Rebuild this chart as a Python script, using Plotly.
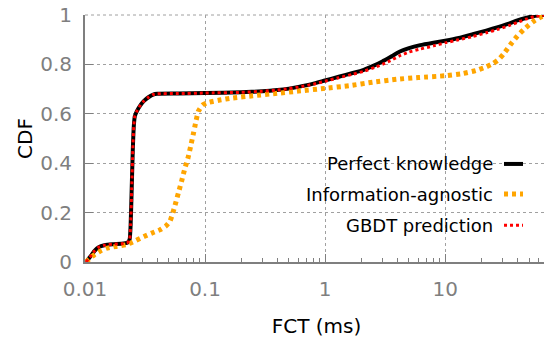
import plotly.graph_objects as go

# ---- data ----
perfect_x = [0.0102, 0.011, 0.012, 0.013, 0.0145, 0.017, 0.02, 0.0225, 0.0235, 0.024, 0.0245, 0.025,
             0.0255, 0.026, 0.027, 0.029, 0.031, 0.034, 0.037, 0.04, 0.06, 0.1, 0.2, 0.3, 0.4, 0.5,
             0.6, 0.8, 1.0, 1.3, 1.7, 2.1, 2.6, 3.0, 3.5, 4.2, 5, 6.2, 8, 10, 13, 17, 22, 28, 34,
             40, 47, 55, 63, 70]
perfect_y = [0.0, 0.02, 0.045, 0.06, 0.068, 0.072, 0.074, 0.078, 0.09, 0.15, 0.3, 0.45,
             0.55, 0.59, 0.61, 0.635, 0.652, 0.668, 0.678, 0.681, 0.682, 0.684, 0.687, 0.691, 0.696, 0.702,
             0.709, 0.722, 0.735, 0.75, 0.765, 0.778, 0.797, 0.812, 0.83, 0.852, 0.866, 0.878, 0.888, 0.896,
             0.907, 0.922, 0.937, 0.952, 0.965, 0.978, 0.988, 0.996, 0.999, 1.0]

gbdt_x = perfect_x
gbdt_y = [0.0, 0.02, 0.045, 0.06, 0.068, 0.072, 0.074, 0.078, 0.09, 0.15, 0.3, 0.45,
          0.55, 0.59, 0.61, 0.635, 0.652, 0.668, 0.678, 0.681, 0.682, 0.684, 0.687, 0.691, 0.696, 0.702,
          0.708, 0.72, 0.732, 0.746, 0.76, 0.772, 0.788, 0.8, 0.815, 0.835, 0.85, 0.862, 0.875, 0.887,
          0.9, 0.913, 0.928, 0.943, 0.957, 0.97, 0.983, 0.993, 0.998, 1.0]

agnostic_x = [0.0102, 0.011, 0.012, 0.0135, 0.015, 0.018, 0.022, 0.026, 0.031, 0.036, 0.042, 0.047,
              0.051, 0.054, 0.057, 0.06, 0.064, 0.068, 0.072, 0.076, 0.08, 0.084, 0.088, 0.095, 0.105,
              0.13, 0.17, 0.25, 0.4, 0.6, 1.0, 1.6, 2.5, 4, 6, 10, 14, 18, 22, 25, 28, 31, 35, 40, 45,
              50, 56, 63, 70]
agnostic_y = [0.0, 0.015, 0.03, 0.045, 0.055, 0.063, 0.07, 0.085, 0.103, 0.117, 0.13, 0.145,
              0.165, 0.2, 0.24, 0.28, 0.33, 0.38, 0.42, 0.47, 0.52, 0.57, 0.61, 0.635, 0.645,
              0.655, 0.664, 0.673, 0.683, 0.692, 0.703, 0.714, 0.728, 0.74, 0.747, 0.754, 0.763, 0.775, 0.79,
              0.803, 0.82, 0.845, 0.88, 0.915, 0.94, 0.96, 0.978, 0.992, 1.0]

series_names = ["Perfect knowledge", "Information-agnostic", "GBDT prediction"]
x_tickvals = [0.01, 0.1, 1, 10]
x_ticktext = ["0.01", "0.1", "1", "10"]
y_tickvals = [0, 0.2, 0.4, 0.6, 0.8, 1]
y_ticktext = ["0", "0.2", "0.4", "0.6", "0.8", "1"]

FONT = "DejaVu Sans"
GRAY = "#7f7f7f"
GRID = "#a0a0a0"

black_style = dict(color="black", width=4)
orange_style = dict(color="#FFA500", width=5, dash="4px,4px")
red_style = dict(color="#FF0000", width=3, dash="3px,3px")

fig = go.Figure()
fig.add_trace(go.Scatter(x=perfect_x, y=perfect_y, mode="lines", name=series_names[0],
                         line=dict(**black_style, shape="spline", smoothing=0.5)))
fig.add_trace(go.Scatter(x=agnostic_x, y=agnostic_y, mode="lines", name=series_names[1],
                         line=dict(**orange_style, shape="spline", smoothing=0.5)))
fig.add_trace(go.Scatter(x=gbdt_x, y=gbdt_y, mode="lines", name=series_names[2],
                         line=dict(**red_style, shape="spline", smoothing=0.5)))

# top grid line (plotly omits the grid line at the range edge)
shapes = [dict(type="line", xref="paper", yref="paper", x0=0, x1=1, y0=1, y1=1,
               line=dict(color=GRID, width=1, dash="dot"), layer="between"),
          # white box behind the legend, hiding the grid
          dict(type="rect", xref="paper", yref="paper", x0=0.389, x1=0.961, y0=0.069, y1=0.502,
               fillcolor="white", line=dict(width=0), layer="between")]
annotations = []
rows_y = [0.397, 0.275, 0.149]
for name, ry, st in zip(series_names, rows_y, [black_style, orange_style, red_style]):
    annotations.append(dict(xref="paper", yref="paper", x=0.886, y=ry, xanchor="right", yanchor="middle",
                            text=name, showarrow=False, font=dict(family=FONT, size=18, color="black")))
    shapes.append(dict(type="line", xref="paper", yref="paper", x0=0.905, x1=0.946, y0=ry, y1=ry,
                       line=st, layer="above"))

# page body adds an 8px offset, so the figure is 8px smaller on each axis
fig.update_layout(
    width=544, height=331,
    margin=dict(l=77, r=4, t=7, b=77),
    plot_bgcolor="white", paper_bgcolor="white",
    showlegend=False,
    font=dict(family=FONT, size=20, color="black"),
    shapes=shapes, annotations=annotations,
)
fig.update_xaxes(
    type="log", range=[-2, 1.857], automargin=False,
    tickvals=x_tickvals, ticktext=x_ticktext,
    tickfont=dict(color=GRAY, size=20), ticklabelstandoff=8, ticklabeloverflow="allow",
    ticks="inside", ticklen=8, tickcolor=GRAY, tickwidth=1,
    showgrid=True, gridcolor=GRID, griddash="dot", gridwidth=1,
    showline=True, linecolor=GRAY, linewidth=2,
    minor=dict(ticks="inside", ticklen=4, tickcolor=GRAY, showgrid=False,
               tickvals=[m * d for d in [0.01, 0.1, 1, 10] for m in range(2, 10) if m * d <= 72]),
    title=dict(text="FCT (ms)", font=dict(size=20, color="black"), standoff=19),
    zeroline=False,
)
fig.update_yaxes(
    range=[0, 1], tickvals=y_tickvals, ticktext=y_ticktext, automargin=False,
    tickfont=dict(color=GRAY, size=20), ticklabelstandoff=7, ticklabeloverflow="allow",
    ticks="inside", ticklen=8, tickcolor=GRAY, tickwidth=1,
    showgrid=True, gridcolor=GRID, griddash="dot", gridwidth=1,
    showline=True, linecolor=GRAY, linewidth=2,
    title=dict(text="CDF", font=dict(size=20, color="black"), standoff=2),
    zeroline=False,
)

fig.write_html("out.html")
